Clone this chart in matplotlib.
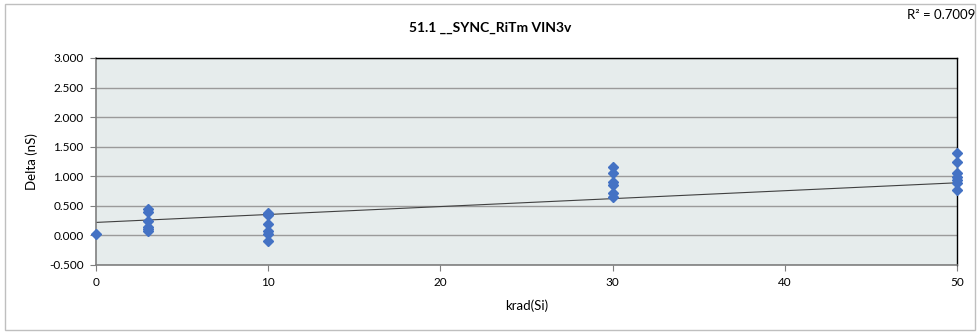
import matplotlib.pyplot as plt
from matplotlib.patches import Rectangle
from matplotlib.ticker import FormatStrFormatter

plt.rcParams['font.family'] = ['Lato', 'DejaVu Sans']

# Data
dose_0 = [0]
delta_0 = [0.03]
dose_3 = [3, 3, 3, 3, 3, 3]
delta_3 = [0.45, 0.39, 0.25, 0.15, 0.11, 0.07]
dose_10 = [10, 10, 10, 10, 10, 10]
delta_10 = [0.38, 0.34, 0.20, 0.08, 0.03, -0.09]
dose_30 = [30, 30, 30, 30, 30, 30]
delta_30 = [1.16, 1.05, 0.91, 0.86, 0.71, 0.65]
dose_50 = [50, 50, 50, 50, 50, 50, 50]
delta_50 = [1.39, 1.24, 1.05, 0.99, 0.93, 0.88, 0.76]

# Linear trendline as shown in the chart
trend_x = [0, 50]
trend_intercept = 0.22
trend_slope = 0.0134
r2_label = 'R² = 0.7009'

x = dose_0 + dose_3 + dose_10 + dose_30 + dose_50
y = delta_0 + delta_3 + delta_10 + delta_30 + delta_50

fig = plt.figure(figsize=(9.8, 3.34), dpi=100)
ax = fig.add_axes([0.098, 0.2066, 0.8786, 0.6198])
ax.set_facecolor('#e6ecec')

# outer chart border
fig.patches.append(Rectangle((0.005, 0.012), 0.99, 0.976, transform=fig.transFigure,
                             fill=False, edgecolor='#bfbfbf', linewidth=1))

ax.set_xlim(0, 50)
ax.set_ylim(-0.5, 3.0)
ax.set_xticks(range(0, 51, 10))
ax.set_yticks([-0.5, 0, 0.5, 1.0, 1.5, 2.0, 2.5, 3.0])
ax.yaxis.set_major_formatter(FormatStrFormatter('%.3f'))
ax.grid(axis='y', color='#9a9a9a', linewidth=1)
ax.set_axisbelow(True)

ax.plot(trend_x, [trend_intercept + trend_slope * t for t in trend_x],
        color='#404040', linewidth=0.8, zorder=2)
ax.plot(x, y, linestyle='none', marker='D', markersize=5,
        color='#4472c4', zorder=3, clip_on=False)

for side in ['top', 'right']:
    ax.spines[side].set_color('black')
    ax.spines[side].set_linewidth(1)
for side in ['left', 'bottom']:
    ax.spines[side].set_color('#7f7f7f')
    ax.spines[side].set_linewidth(1.2)

ax.tick_params(axis='both', labelsize=8.5, length=4, color='#7f7f7f', pad=5)
ax.set_xlabel('krad(Si)', fontsize=9.5, labelpad=8)
ax.set_ylabel('Delta (nS)', fontsize=9.5, labelpad=8)

fig.text(0.5, 0.915, '51.1 __SYNC_RiTm VIN3v', fontsize=10, fontweight='bold',
         ha='center', va='center')
fig.text(0.995, 0.955, r2_label, fontsize=9.5, ha='right', va='center')

fig.savefig('out.png', dpi=100)
